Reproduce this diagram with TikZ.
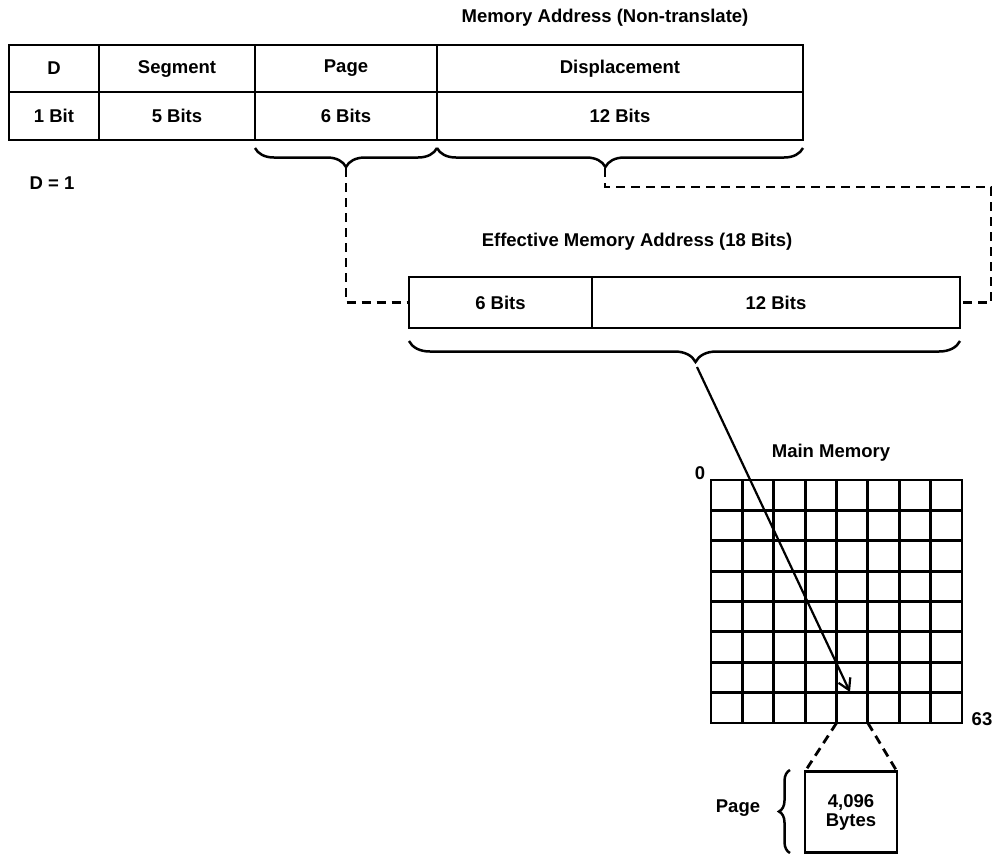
\documentclass[tikz,border=0pt]{standalone}
\usepackage{fontspec}
\setmainfont{Liberation Sans}
\usetikzlibrary{decorations.pathreplacing,calc,arrows.meta}
\begin{document}
\begin{tikzpicture}[x=1pt,y=-1pt,
  font=\fontsize{18.5}{21}\selectfont\bfseries,
  cell/.style={draw, rectangle, inner sep=0pt, outer sep=0pt, line width=2.8pt},
  lbl/.style={inner sep=0pt},
  dashline/.style={line width=2.8pt, dash pattern=on 9pt off 6pt},
  brc/.style={decorate, decoration={brace, amplitude=#1}, line width=2.5pt},
  brc/.default=19pt]
\useasboundingbox (0,0) rectangle (997,854);
\fill[white] (0,0) rectangle (997,854);

% top table
\node[lbl] (title) at (605,18) {Memory Address (Non-translate)};
\node[cell, minimum width=90pt, minimum height=47pt] (d) at (54,68.5) {D};
\node[cell, minimum width=156pt, minimum height=47pt] (seg) at (177,68.5) {Segment};
\node[cell, minimum width=182pt, minimum height=47pt] (pg) at (346,68.5) {Page};
\node[cell, minimum width=366pt, minimum height=47pt] (disp) at (620,68.5) {Displacement};
\node[cell, minimum width=90pt, minimum height=48pt] (d2) at (54,116) {1 Bit};
\node[cell, minimum width=156pt, minimum height=48pt] (seg2) at (177,116) {5 Bits};
\node[cell, minimum width=182pt, minimum height=48pt] (pg2) at (346,116) {6 Bits};
\node[cell, minimum width=366pt, minimum height=48pt] (disp2) at (620,116) {12 Bits};
\node[lbl] (deq) at (52,183) {D = 1};

% braces under table
\draw[brc] ([yshift=-8pt]pg2.south east) -- ([yshift=-8pt]pg2.south west);
\draw[brc, decoration={aspect=0.54}] ([yshift=-8pt]disp2.south east) -- ([yshift=-8pt]disp2.south west);
\coordinate (ptip) at (346,168);
\coordinate (dtip) at (605,168);

% effective address
\node[lbl] (efft) at (637,242) {Effective Memory Address (18 Bits)};
\node[cell, minimum width=183pt, minimum height=51pt] (e1) at (500.5,302.5) {6 Bits};
\node[cell, minimum width=368pt, minimum height=51pt] (e2) at (776,302.5) {12 Bits};
\coordinate (rc) at (991,187);

\draw[dashline] (ptip) |- (e1.west);
\draw[dashline] (dtip) |- (rc) |- (e2.east);

% brace under effective address
\draw[brc=21pt, decoration={aspect=0.48}] ([yshift=-13pt]e2.south east) -- ([yshift=-13pt]e1.south west);
\coordinate (etip) at (697,367);

% main memory
\node[lbl] (mmt) at (831,453) {Main Memory};
\node[cell, minimum width=251pt, minimum height=243pt] (mem) at (836.5,601.5) {};
\foreach \i in {1,...,7}{
  \draw[line width=2.8pt] ($(mem.north west)!\i/8!(mem.north east)$) -- ($(mem.south west)!\i/8!(mem.south east)$);
  \draw[line width=2.8pt] ($(mem.north west)!\i/8!(mem.south west)$) -- ($(mem.north east)!\i/8!(mem.south east)$);
}
\node[lbl] (zero) at (700,473) {0};
\node[lbl] (sixtythree) at (982,719) {63};
\coordinate (target) at (850,692);
\draw[line width=2.2pt, -{Straight Barb[length=11pt,width=13pt,line width=2.2pt]}] (etip) -- (target);

% page
\coordinate (pl) at ($(mem.south west)!4/8!(mem.south east)$);
\coordinate (pr) at ($(mem.south west)!5/8!(mem.south east)$);
\node[cell, minimum width=92pt, minimum height=81pt, align=center] (page) at (851,812) {4,096\\[-2pt]Bytes};
\draw[dashline] (pl) -- (page.north west);
\draw[dashline] (pr) -- (page.north east);
\draw[brc=11pt, decoration={aspect=0.5}] (790,853) -- (790,770);
\node[lbl] (pagel) at (738,808) {Page};
\end{tikzpicture}
\end{document}
